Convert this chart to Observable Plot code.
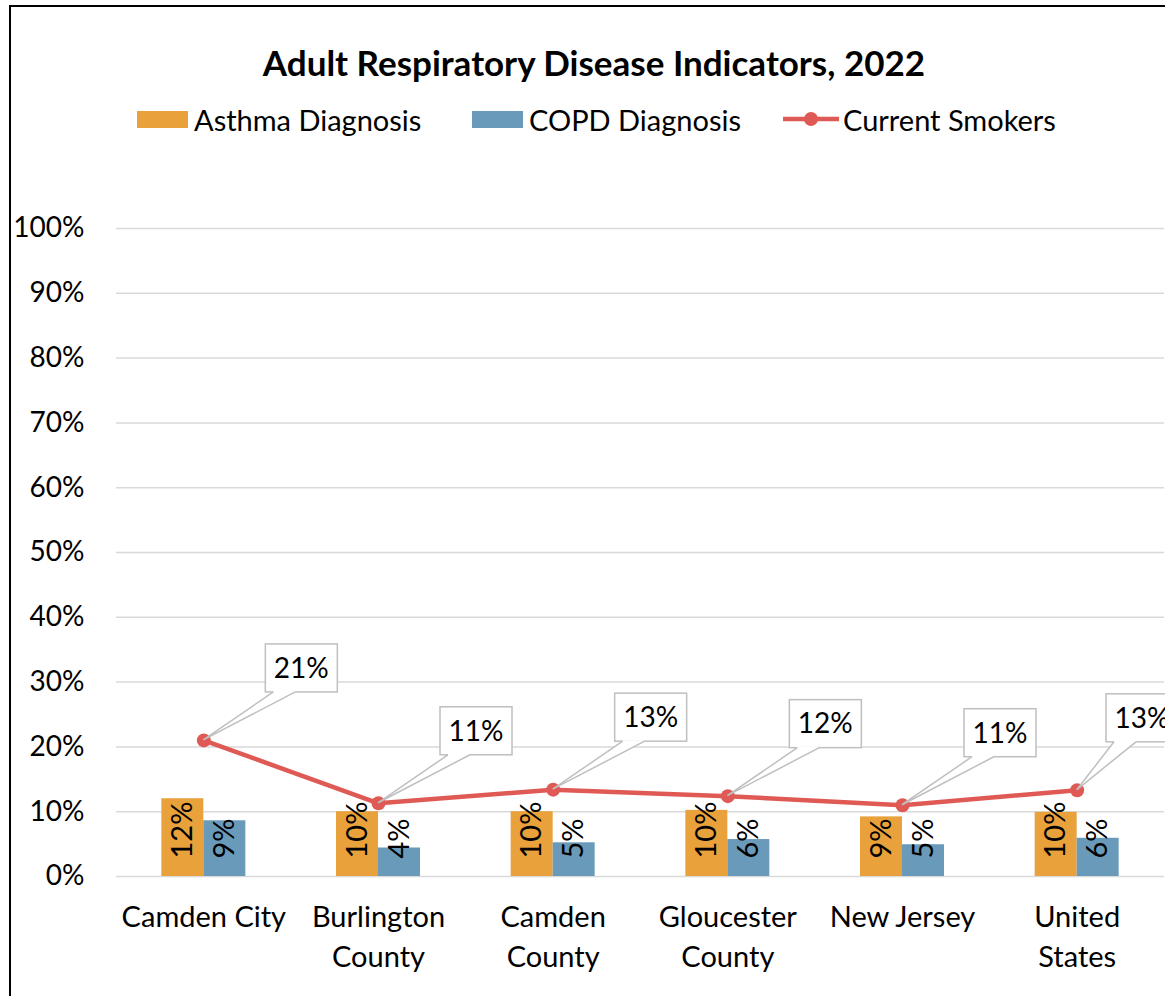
<!DOCTYPE html>
<html>
<head>
<meta charset="utf-8">
<script src="https://cdn.jsdelivr.net/npm/d3@7"></script>
<script src="https://cdn.jsdelivr.net/npm/@observablehq/plot@0.6"></script>
<style>
  html, body { margin: 0; padding: 0; background: #fff; }
  body { width: 1165px; height: 996px; overflow: hidden; position: relative; font-family: Lato, "Open Sans", sans-serif; color: #000; }
  #frame { position: absolute; left: 9px; top: 5px; width: 1300px; height: 1100px; border-left: 2px solid #000; border-top: 2px solid #000; box-sizing: border-box; }
  #title { position: absolute; left: 0; top: 40px; width: 1188px; text-align: center; font-weight: bold; font-size: 35px; line-height: 44px; }
  .leg { position: absolute; top: 101px; height: 36px; display: flex; align-items: center; font-size: 29px; white-space: nowrap; }
  .sw { width: 51px; height: 17px; margin-right: 6px; }
  .lsw { width: 56px; height: 20px; margin-right: 4px; }
  #chart { position: absolute; left: 0; top: 190px; }
</style>
</head>
<body>
<div id="frame"></div>
<div id="title">Adult Respiratory Disease Indicators, 2022</div>
<div id="legend"></div>
<div id="chart"></div>
<script>
// ---- data ----
const categories = ["Camden City", "Burlington County", "Camden County", "Gloucester County", "New Jersey", "United States"];
const tickLabels = ["Camden City", "Burlington\nCounty", "Camden\nCounty", "Gloucester\nCounty", "New Jersey", "United\nStates"];
const asthma = [0.120, 0.100, 0.100, 0.102, 0.092, 0.099];
const copd = [0.086, 0.044, 0.052, 0.057, 0.049, 0.059];
const smokers = [0.210, 0.113, 0.134, 0.124, 0.110, 0.133];
const seriesNames = ["Asthma Diagnosis", "COPD Diagnosis", "Current Smokers"];
const yTicks = [0, 0.1, 0.2, 0.3, 0.4, 0.5, 0.6, 0.7, 0.8, 0.9, 1.0];

const colors = { asthma: "#E9A13B", copd: "#6A9AB9", smokers: "#E05A55" };
const pct = d3.format(".0%");

const rows = categories.map((c, i) => ({ cat: c, asthma: asthma[i], copd: copd[i], smokers: smokers[i] }));
const tickMap = new Map(categories.map((c, i) => [c, tickLabels[i]]));

// ---- legend (HTML) ----
const legend = document.getElementById("legend");
const legItems = [
  { left: 137, html: `<div class="sw" style="background:${colors.asthma}"></div>`, name: seriesNames[0] },
  { left: 472, html: `<div class="sw" style="background:${colors.copd}"></div>`, name: seriesNames[1] },
  { left: 783, html: `<svg class="lsw" width="56" height="20"><line x1="0" y1="10" x2="56" y2="10" stroke="${colors.smokers}" stroke-width="4.5"/><circle cx="28" cy="10" r="7" fill="${colors.smokers}"/></svg>`, name: seriesNames[2] }
];
legItems.forEach(it => {
  const d = document.createElement("div");
  d.className = "leg";
  d.style.left = it.left + "px";
  d.innerHTML = it.html + `<span>${it.name}</span>`;
  legend.appendChild(d);
});

// ---- chart ----
const W = 1165, H = 806;
const mL = 116, mR = 1, mT = 38, mB = 120;
const bandW = (W - mL - mR) / categories.length;
const barW = 42;

function callouts(index, scales, values, dimensions) {
  const sx = scales.x, sy = scales.y;
  const bw = typeof sx.bandwidth === "function" ? sx.bandwidth() : (sx.bandwidth || 0);
  const g = d3.create("svg:g");
  const rightLimit = dimensions.width + 13;
  const boxW = 72, boxH = 48;
  rows.forEach(d => {
    const px = sx(d.cat) + bw / 2, py = sy(d.smokers);
    let bx = px + 62;
    if (bx + boxW > rightLimit) bx = rightLimit - boxW;
    const by = py - 96;
    g.append("rect")
      .attr("x", bx).attr("y", by).attr("width", boxW).attr("height", boxH)
      .attr("fill", "#fff").attr("stroke", "#bfbfbf").attr("stroke-width", 1.5);
    g.append("path")
      .attr("d", `M${bx + 8},${by + boxH - 1}L${bx + 8},${by + boxH}L${px},${py}L${bx + 30},${by + boxH}L${bx + 30},${by + boxH - 1}Z`)
      .attr("fill", "#fff").attr("stroke", "none");
    g.append("path")
      .attr("d", `M${bx + 8},${by + boxH}L${px},${py}L${bx + 30},${by + boxH}`)
      .attr("fill", "none").attr("stroke", "#bfbfbf").attr("stroke-width", 1.5);
    g.append("text")
      .attr("x", bx + boxW / 2).attr("y", by + boxH / 2)
      .attr("text-anchor", "middle").attr("dy", "0.35em")
      .attr("font-size", 28).attr("fill", "#000")
      .text(pct(d.smokers));
  });
  return g.node();
}

const chart = Plot.plot({
  width: W,
  height: H,
  marginLeft: mL,
  marginRight: mR,
  marginTop: mT,
  marginBottom: mB,
  style: { fontFamily: "Lato, 'Open Sans', sans-serif", fontSize: "26px", color: "#000", background: "transparent", overflow: "visible" },
  x: { type: "band", domain: categories, padding: 0, round: false, label: null },
  y: { domain: [0, 1], label: null },
  marks: [
    Plot.ruleY(yTicks, { stroke: "#d9d9d9", strokeWidth: 1.5 }),
    Plot.axisY({ ticks: yTicks, tickFormat: pct, tickSize: 0, tickPadding: 32, fontSize: 28, label: null }),
    Plot.axisX({ tickSize: 0, tickPadding: 22, tickFormat: d => tickMap.get(d), fontSize: 29, lineHeight: 1.38, label: null }),
    Plot.barY(rows, { x: "cat", y: "asthma", fill: colors.asthma, insetLeft: bandW / 2 - barW, insetRight: bandW / 2 }),
    Plot.barY(rows, { x: "cat", y: "copd", fill: colors.copd, insetLeft: bandW / 2, insetRight: bandW / 2 - barW }),
    Plot.text(rows, { x: "cat", y: () => 0, text: d => pct(d.asthma), rotate: -90, textAnchor: "start", lineAnchor: "middle", dx: -barW / 2, dy: -18, fontSize: 29, fill: "#000" }),
    Plot.text(rows, { x: "cat", y: () => 0, text: d => pct(d.copd), rotate: -90, textAnchor: "start", lineAnchor: "middle", dx: barW / 2, dy: -18, fontSize: 29, fill: "#000" }),
    Plot.lineY(rows, { x: "cat", y: "smokers", stroke: colors.smokers, strokeWidth: 4.5 }),
    Plot.dot(rows, { x: "cat", y: "smokers", r: 7, fill: colors.smokers }),
    callouts
  ]
});
document.getElementById("chart").appendChild(chart);
</script>
</body>
</html>
